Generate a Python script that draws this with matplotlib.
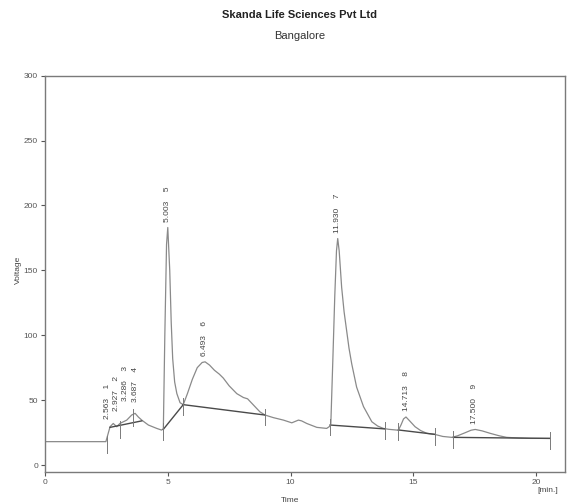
import numpy as np
import matplotlib
matplotlib.use("Agg")
import matplotlib.pyplot as plt

plt.rcParams['font.family'] = ['Liberation Sans', 'DejaVu Sans']

# chromatogram trace (time in min, voltage)
trace_t = [0.0, 2.48, 2.65, 2.78, 2.92, 3.05, 3.19, 3.33, 3.53, 3.67, 3.80, 3.94,
           4.21, 4.55, 4.75, 4.82, 4.88, 4.95, 5.0, 5.08, 5.14, 5.2, 5.28, 5.37,
           5.5, 5.63, 5.8, 6.0, 6.2, 6.4, 6.52, 6.7, 6.9, 7.1, 7.26, 7.5, 7.81,
           8.08, 8.25, 8.4, 8.55, 8.75, 8.96, 9.3, 9.71, 10.05, 10.32, 10.45,
           10.66, 11.07, 11.47, 11.61, 11.64, 11.72, 11.8, 11.87, 11.92, 11.98,
           12.08, 12.18, 12.28, 12.38, 12.49, 12.69, 12.97, 13.31, 13.55, 13.78,
           14.0, 14.39, 14.5, 14.6, 14.7, 14.85, 15.07, 15.3, 15.55, 15.89, 16.2,
           16.57, 16.8, 17.1, 17.35, 17.52, 17.8, 18.13, 18.5, 18.8, 19.3, 19.76,
           20.57]
trace_v = [18, 18, 29.5, 32, 29.5, 32, 33.3, 34.6, 38.5, 39.8, 37, 34.6,
           30.8, 28.2, 26.9, 28, 100, 170, 183, 150, 110, 82, 64, 55,
           48, 46.5, 55, 66, 75, 79, 79.5, 77, 73, 70, 67, 61, 55,
           52, 51, 48, 45, 41, 38.5, 36.5, 34.6, 32.5, 34.6, 34,
           32, 29, 28.2, 30, 32, 80, 130, 165, 174.5, 165,
           137, 118, 104, 90, 78, 60, 45, 33.3, 30, 28.2,
           27.5, 26.8, 31, 35.5, 37, 34, 29.5, 26.5, 24.4, 23.5, 22,
           21.3, 22.5, 24.8, 26.8, 27.4, 26.3, 24.4, 22.5, 21.3, 20.8, 20.5,
           20.5]

# integration baselines (start t, start v, end t, end v)
base_t0 = [2.65, 4.82, 5.63, 11.61, 14.39, 16.63]
base_v0 = [29.0, 27.5, 46.5, 30.8, 27.0, 21.3]
base_t1 = [3.94, 5.63, 8.96, 13.85, 15.89, 20.57]
base_v1 = [34.0, 46.5, 38.5, 27.8, 23.6, 20.5]

# peak boundary marks
mark_t = [2.51, 3.05, 3.6, 4.82, 5.63, 8.96, 11.61, 13.85, 14.39, 15.89, 16.63, 20.57]
mark_v = [17, 29, 38, 27, 46.5, 38.5, 30.8, 27.8, 27.0, 23.6, 21.3, 20.5]

# peak labels
peak_num = ["1", "2", "3", "4", "5", "6", "7", "8", "9"]
peak_rt = [2.563, 2.927, 3.286, 3.687, 5.003, 6.493, 11.930, 14.713, 17.500]
peak_h = [31, 37, 45, 44, 183, 79.5, 174.5, 37, 27.4]

fig = plt.figure(figsize=(5.76, 5.03), dpi=100)
ax = fig.add_axes([0.0781, 0.0616, 0.903, 0.788])

ax.plot(trace_t, trace_v, color="#8a8a8a", lw=0.9)
for t0, v0, t1, v1 in zip(base_t0, base_v0, base_t1, base_v1):
    ax.plot([t0, t1], [v0, v1], color="#4a4a4a", lw=1.0)
for t, v in zip(mark_t, mark_v):
    ax.plot([t, t], [v - 8, v + 5], color="#7a7a7a", lw=0.7)

for n, rt, h in zip(peak_num, peak_rt, peak_h):
    ax.annotate(f"{rt:.3f}    {n}", xy=(rt, h), xytext=(0, 4), textcoords="offset points",
                rotation=90, ha="center", va="bottom", fontsize=6, color="#444444")

ax.set_xlim(0, 21.18)
ax.set_ylim(-5.4, 300)
ax.set_xticks([0, 5, 10, 15, 20])
ax.set_yticks([0, 50, 100, 150, 200, 250, 300])
ax.tick_params(labelsize=6, colors="#555555", length=3, width=0.8, direction="out", pad=2)
for s in ax.spines.values():
    s.set_color("#7a7a7a")
    s.set_linewidth(1.0)

ax.set_ylabel("Voltage", fontsize=6, color="#444444")
ax.yaxis.set_label_coords(-0.044, 0.51)
fig.text(290 / 576, 1 - 500 / 503, "Time", fontsize=6, color="#444444", ha="center", va="center")
fig.text(548 / 576, 1 - 490 / 503, "[min.]", fontsize=6, color="#444444", ha="center", va="center")

fig.text(300 / 576, 1 - 15 / 503, "Skanda Life Sciences Pvt Ltd", fontsize=8, fontweight="bold",
         color="#222222", ha="center", va="center")
fig.text(300 / 576, 1 - 36 / 503, "Bangalore", fontsize=8, color="#333333", ha="center", va="center")

fig.savefig("out.png", dpi=100)
